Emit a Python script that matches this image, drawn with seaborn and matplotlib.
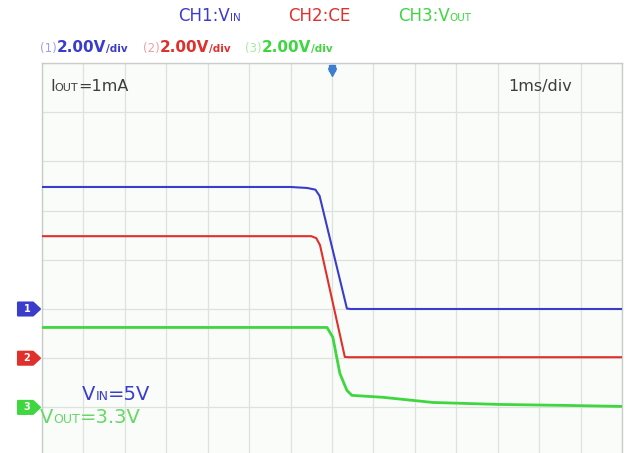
import numpy as np
import pandas as pd
import matplotlib
matplotlib.use("Agg")
import matplotlib.pyplot as plt
import matplotlib.patches as mpatches
import seaborn as sns

# ---- data (time in ms, voltage in V) ----
t_ch1 = [-7.0, -1.0, -0.6, -0.4, -0.3, 0.36, 0.45, 7.0]
v_ch1 = [4.96, 4.96, 4.92, 4.85, 4.60, 0.02, 0.0, 0.0]
t_ch2 = [-7.0, -0.5, -0.38, -0.29, 0.31, 0.40, 7.0]
v_ch2 = [4.96, 4.96, 4.88, 4.60, 0.05, 0.04, 0.04]
t_ch3 = [-7.0, -0.12, 0.02, 0.19, 0.36, 0.48, 1.23, 2.44, 4.05, 5.67, 7.0]
v_ch3 = [3.25, 3.25, 2.85, 1.38, 0.69, 0.49, 0.41, 0.20, 0.12, 0.08, 0.04]
volts_per_div = [2.0, 2.0, 2.0]
ch_offsets = [-1, -2, -3]          # ground level of each channel, in divisions
ch_colors = ["#3a3ccc", "#e0302c", "#3fd63f"]
ch_names = ["1", "2", "3"]

W, H = 628, 453
sns.set_style("white")
plt.rcParams['font.family'] = ['DejaVu Sans']

fig = plt.figure(figsize=(W / 100, H / 100), dpi=100)
fig.patch.set_facecolor("white")
ax = fig.add_axes([42 / W, 0, 580 / W, 390 / H])
ax.set_facecolor("#f9fcf9")

series = [(t_ch1, v_ch1), (t_ch2, v_ch2), (t_ch3, v_ch3)]
for i, (tt, vv) in enumerate(series):
    df = pd.DataFrame({"t": tt, "div": np.array(vv) / volts_per_div[i] + ch_offsets[i]})
    sns.lineplot(data=df, x="t", y="div", ax=ax, color=ch_colors[i],
                 lw=2.0 if i == 2 else 1.5, sort=False, estimator=None, zorder=5)

div_px = 49.2
ax.set_xlim(-7, 7)
ax.set_ylim(4 - 390 / div_px, 4)
ax.set_xticks(np.arange(-7, 8))
ax.set_yticks(np.arange(-3, 5))
ax.grid(True, color="#dde2dd", lw=0.9)
ax.tick_params(length=0, labelbottom=False, labelleft=False)
ax.set_xlabel("")
ax.set_ylabel("")
for s in ["top", "right", "left"]:
    ax.spines[s].set_color("#c9cdc9")
    ax.spines[s].set_linewidth(1.0)
ax.spines["bottom"].set_visible(False)

# trigger marker
ax.plot([0], [3.82], marker="v", ms=6, color="#3c7fd0", clip_on=False, zorder=10)
ax.plot([0], [3.9], marker="s", ms=4, color="#3c7fd0", clip_on=False, zorder=10)

fig.canvas.draw()
renderer = fig.canvas.get_renderer()

# channel ground markers (tags left of the screen)
for i in range(3):
    yd = ax.transData.transform((-7, ch_offsets[i]))[1]
    pts = [(18, yd - 6.5), (33, yd - 6.5), (40, yd), (33, yd + 6.5), (18, yd + 6.5)]
    pts = [(px / W, py / H) for px, py in pts]
    poly = mpatches.Polygon(pts, closed=True, transform=fig.transFigure,
                            fc=ch_colors[i], ec=ch_colors[i], lw=1.5,
                            joinstyle="round")
    fig.patches.append(poly)
    fig.text(27 / W, yd / H, ch_names[i], color="white", fontsize=7,
             fontweight="bold", ha="center", va="center")


def rich(x_px, y_px, pieces):
    x = x_px
    for s, size, color, weight in pieces:
        t = fig.text(x / W, 1 - y_px / H, s, fontsize=size, color=color,
                     fontweight=weight, va="baseline", ha="left")
        bb = t.get_window_extent(renderer=renderer)
        x = bb.x1


# header
rich(178, 21, [("CH1:V", 12, ch_colors[0], "normal"), ("IN", 7.5, ch_colors[0], "normal")])
rich(288, 21, [("CH2:CE", 12, ch_colors[1], "normal")])
rich(398, 21, [("CH3:V", 12, ch_colors[2], "normal"), ("OUT", 7.5, ch_colors[2], "normal")])

light = ["#9ea2e6", "#eea0a0", "#a6eaa6"]
for i, x0 in enumerate([40, 143, 245]):
    rich(x0, 52, [("(%d)" % (i + 1), 8.5, light[i], "normal"),
                  ("2.00V", 11, ch_colors[i], "bold"),
                  ("/div", 7.5, ch_colors[i], "bold")])

rich(50, 91, [("I", 11.5, "#3d3d3d", "normal"), ("OUT", 8, "#3d3d3d", "normal"),
              ("=1mA", 11.5, "#3d3d3d", "normal")])
rich(508, 91, [("1ms/div", 11.5, "#3d3d3d", "normal")])
rich(82, 400, [("V", 14, ch_colors[0], "normal"), ("IN", 9, ch_colors[0], "normal"),
               ("=5V", 14, ch_colors[0], "normal")])
rich(40, 423, [("V", 14, "#66d866", "normal"), ("OUT", 9, "#66d866", "normal"),
               ("=3.3V", 14, "#66d866", "normal")])

fig.savefig("out.png", dpi=100)
